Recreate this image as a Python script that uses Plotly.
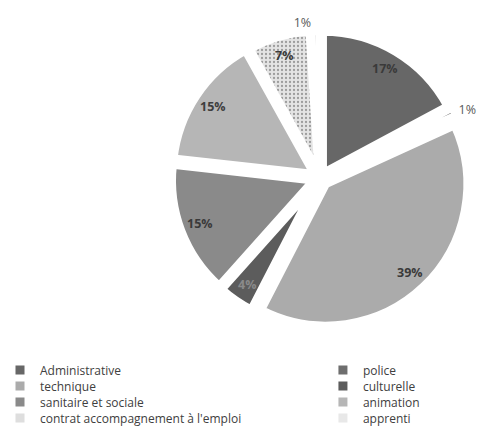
import math
import plotly.graph_objects as go

# Répartition des contrats par filière (en %)
categories = [
    "Administrative",
    "police",
    "technique",
    "culturelle",
    "sanitaire et sociale",
    "animation",
    "contrat accompagnement à l'emploi",
    "apprenti",
]
values = [17, 1, 39, 4, 15, 15, 7, 1]

colors = ["#676767", "#6e6e6e", "#ababab", "#5c5c5c", "#8a8a8a", "#b6b6b6", "#dedede", "#e8e8e8"]
pulls = [0.04, 0.06, 0.06, 0.05, 0.05, 0.05, 0.04, 0.04]
# small slices get their label outside, the others get a label placed on the slice
outside = [False, True, False, False, False, False, False, True]
label_colors = ["#3a3a3a", "#595959", "#3a3a3a", "#8a8a8a", "#3a3a3a", "#3e3e3e", "#3a3a3a", "#595959"]

W, H = 482, 431
dom_x = [0.353, 0.975]
dom_y = [0.239, 0.935]

fig = go.Figure()

fig.add_trace(
    go.Pie(
        labels=categories,
        values=values,
        sort=False,
        direction="clockwise",
        rotation=0,
        pull=pulls,
        texttemplate="%{value}%",
        textposition=["outside" if o else "none" for o in outside],
        outsidetextfont=dict(family="Open Sans", size=12.5, color="#595959"),
        marker=dict(
            colors=colors,
            line=dict(color="white", width=8),
            pattern=dict(
                shape=["", "", "", "", "", "", ".", ""],
                fgcolor="#9c9c9c",
                bgcolor="#e4e4e4",
                size=4,
                solidity=0.25,
            ),
        ),
        domain=dict(x=dom_x, y=dom_y),
        hoverinfo="label+percent",
        showlegend=False,
    )
)

# Percentage labels sitting near the rim of each slice, following the pie geometry
box_w = W * (dom_x[1] - dom_x[0])
box_h = H * (dom_y[1] - dom_y[0])
cx = W * (dom_x[0] + dom_x[1]) / 2
cy = H * (1 - (dom_y[0] + dom_y[1]) / 2)
radius = min(box_w, box_h) / (2 + 2 * max(pulls))
total = sum(values)
cum = 0
for v, p, o, tc in zip(values, pulls, outside, label_colors):
    mid = 2 * math.pi * (cum + v / 2) / total
    cum += v
    if o:
        continue
    d = radius * (0.86 + p)
    px = cx + d * math.sin(mid)
    py = cy - d * math.cos(mid)
    fig.add_annotation(
        x=px / W,
        y=1 - py / H,
        xref="paper",
        yref="paper",
        text=f"<b>{v}%</b>",
        showarrow=False,
        font=dict(family="Open Sans", size=12.5, color=tc),
        xanchor="center",
        yanchor="middle",
    )

# Legend: two columns of four rows, one small legend per entry
legend_x = [0.0, 0.67]
legend_rows_px = [370, 386, 402, 418]
legend_style = dict(
    orientation="v",
    yanchor="middle",
    xanchor="left",
    font=dict(family="Open Sans", size=12, color="#404040"),
    itemwidth=30,
    bgcolor="rgba(0,0,0,0)",
    borderwidth=0,
)
legend_layout = {}
for i, (name, col) in enumerate(zip(categories, colors)):
    key = "legend" if i == 0 else f"legend{i + 1}"
    fig.add_trace(
        go.Scatter(
            x=[None],
            y=[None],
            mode="markers",
            name=name,
            marker=dict(symbol="square", size=9, color=col),
            legend=key,
            showlegend=True,
        )
    )
    legend_layout[key] = dict(
        x=legend_x[i % 2],
        y=1 - legend_rows_px[i // 2] / H,
        **legend_style,
    )

fig.update_layout(
    width=W,
    height=H,
    margin=dict(l=0, r=0, t=0, b=0, autoexpand=False),
    paper_bgcolor="white",
    plot_bgcolor="white",
    xaxis=dict(visible=False),
    yaxis=dict(visible=False),
    **legend_layout,
)

fig.write_html("out.html")
